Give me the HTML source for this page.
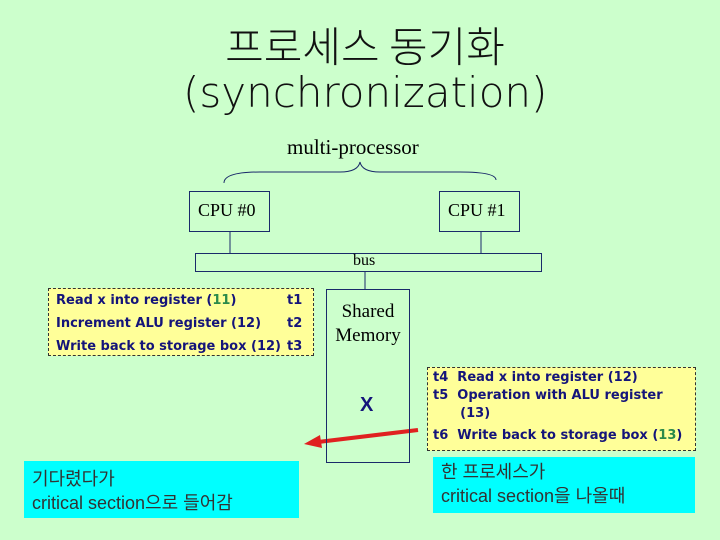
<!DOCTYPE html>
<html><head><meta charset="utf-8"><style>
body{margin:0;width:720px;height:540px;background:#ccffcc;position:relative;overflow:hidden;font-family:"Liberation Sans","Noto Sans CJK KR",sans-serif}
.a{position:absolute;white-space:nowrap}
.ser{font-family:"Liberation Serif",serif;color:#000}
.box{position:absolute;border:1px solid #1a2a6a}
.y{position:absolute;background:#ffff99;border:1px dashed #333}
.nv{color:#14147a;font-weight:bold;font-size:13px;font-family:"DejaVu Sans","Liberation Sans",sans-serif}
.c{position:absolute;background:#00ffff;color:#333;font-size:18px;line-height:24px}
</style></head><body>
<div class="a" style="left:0;width:730px;text-align:center;top:14px;font-size:42px;font-family:'Noto Sans CJK KR',sans-serif;font-weight:300;color:#111">프로세스 동기화</div>
<div class="a" style="left:183px;top:68px;font-size:42px;color:#111;font-family:'DejaVu Sans',sans-serif;font-weight:200">(synchronization)</div>
<div class="a ser" style="left:287px;top:135px;font-size:21px">multi-processor</div>
<svg style="position:absolute;left:0;top:0" width="720" height="540">
<path d="M224 183 Q224 172 260 172 L340 172 Q358 172 360 162 Q362 172 380 172 L460 172 Q496 172 496 180" fill="none" stroke="#1a2a6a" stroke-width="1"/>
<line x1="230" y1="231" x2="230" y2="253" stroke="#1a2a6a"/>
<line x1="481" y1="231" x2="481" y2="253" stroke="#1a2a6a"/>
<line x1="365" y1="271" x2="365" y2="289" stroke="#1a2a6a"/>
<line x1="418" y1="430" x2="318" y2="442" stroke="#e02020" stroke-width="4"/>
<polygon points="304,444 320,435 322,448" fill="#e02020"/>
</svg>
<div class="box" style="left:189px;top:191px;width:79px;height:39px"></div>
<div class="a ser" style="left:198px;top:200px;font-size:18px">CPU #0</div>
<div class="box" style="left:439px;top:191px;width:79px;height:39px"></div>
<div class="a ser" style="left:448px;top:200px;font-size:18px">CPU #1</div>
<div class="box" style="left:195px;top:253px;width:345px;height:17px"></div>
<div class="a ser" style="left:353px;top:252px;font-size:16px">bus</div>
<div class="box" style="left:326px;top:289px;width:82px;height:172px"></div>
<div class="a ser" style="left:333px;top:300px;font-size:19px;line-height:24px;text-align:center;width:70px;white-space:normal">Shared Memory</div>
<div class="a" style="left:360px;top:394px;font-size:20px;color:#14147a;font-weight:bold">X</div>
<div class="y" style="left:48px;top:288px;width:264px;height:66px"></div>
<div class="a nv" style="left:56px;top:289px;line-height:23px">Read x into register (<span style="color:#2a8a4a">11</span>)<br>Increment ALU register (12)<br>Write back to storage box (12)</div>
<div class="a nv" style="left:287px;top:289px;line-height:23px">t1<br>t2<br>t3</div>
<div class="y" style="left:427px;top:367px;width:267px;height:82px"></div>
<div class="a nv" style="left:433px;top:369px;line-height:18px">t4&nbsp; Read x into register (12)<br>t5&nbsp; Operation with ALU register<br>&nbsp;&nbsp;&nbsp;&nbsp;&nbsp;&nbsp;(13)</div>
<div class="a nv" style="left:433px;top:428px">t6&nbsp; Write back to storage box (<span style="color:#2a8a4a">13</span>)</div>
<div class="c" style="left:24px;top:461px;width:275px;height:57px;padding:6px 0 0 8px;box-sizing:border-box">기다렸다가<br>critical section으로 들어감</div>
<div class="c" style="left:433px;top:457px;width:262px;height:56px;padding:3px 0 0 8px;box-sizing:border-box">한 프로세스가<br>critical section을 나올때</div>
</body></html>
